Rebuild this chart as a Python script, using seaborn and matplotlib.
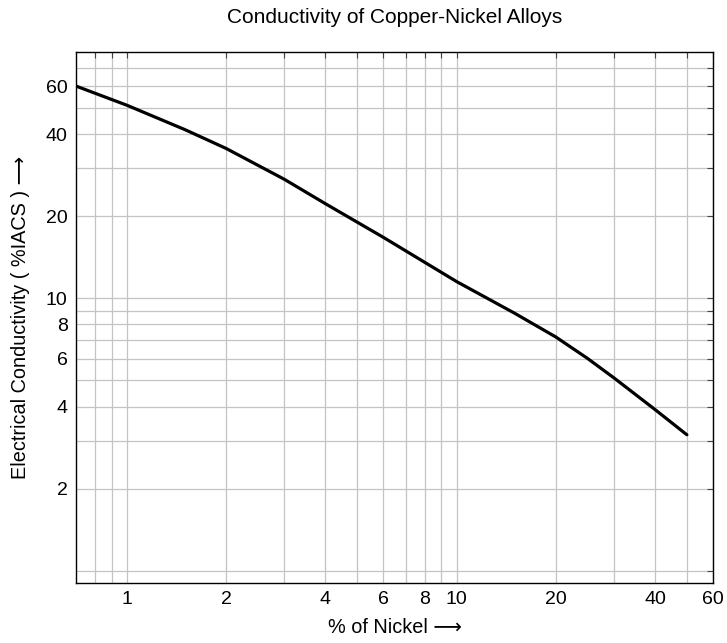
import numpy as np
import pandas as pd
import matplotlib
matplotlib.use("Agg")
import matplotlib.pyplot as plt
import matplotlib.ticker as mticker
import seaborn as sns

# Data
nickel_pct = [0.7, 1.0, 1.5, 2.0, 3.0, 4.0, 6.0, 10.0, 15.0, 20.0, 25.0, 30.0, 40.0, 50.0]
conductivity = [60.0, 51.0, 41.5, 35.4, 27.3, 22.2, 16.7, 11.5, 8.8, 7.2, 6.0, 5.1, 3.9, 3.15]

x_major = [1, 2, 4, 6, 8, 10, 20, 40, 60]
x_minor = [0.8, 0.9, 3, 5, 7, 9, 30, 50]
y_major = [2, 4, 6, 8, 10, 20, 40, 60]
y_minor = [1, 3, 5, 7, 9, 30, 50, 70]

title = "Conductivity of Copper-Nickel Alloys"
xlabel = "% of Nickel \u27f6"
ylabel = "Electrical Conductivity ( %IACS ) \u27f6"

sns.set_style("white")
plt.rcParams['font.family'] = ['Liberation Sans', 'DejaVu Sans']
plt.rcParams['text.color'] = 'black'
plt.rcParams['axes.labelcolor'] = 'black'
plt.rcParams['xtick.color'] = 'black'
plt.rcParams['ytick.color'] = 'black'

df = pd.DataFrame({"x": nickel_pct, "y": conductivity})

fig = plt.figure(figsize=(7.27, 6.43), dpi=100)
ax = fig.add_axes([0.1045, 0.0933, 0.8762, 0.8258])
ax.set_xscale("log")
ax.set_yscale("log")
sns.lineplot(data=df, x="x", y="y", ax=ax, color="black", linewidth=2.3)

ax.set_xlim(0.7, 60)
ax.set_ylim(0.9, 80)

ax.xaxis.set_major_locator(mticker.FixedLocator(x_major))
ax.xaxis.set_minor_locator(mticker.FixedLocator(x_minor))
ax.yaxis.set_major_locator(mticker.FixedLocator(y_major))
ax.yaxis.set_minor_locator(mticker.FixedLocator(y_minor))
ax.xaxis.set_major_formatter(mticker.FixedFormatter([str(v) for v in x_major]))
ax.yaxis.set_major_formatter(mticker.FixedFormatter([str(v) for v in y_major]))
ax.xaxis.set_minor_formatter(mticker.NullFormatter())
ax.yaxis.set_minor_formatter(mticker.NullFormatter())

ax.grid(True, which="both", color="#c4c4c4", linewidth=0.9)
ax.set_axisbelow(True)
ax.tick_params(which="both", direction="in", top=True, right=True, color="#444444", length=4, width=0.8)
ax.tick_params(which="major", labelsize=14, pad=6, labelcolor="black")
for s in ax.spines.values():
    s.set_color("black")
    s.set_linewidth(1.0)

ax.set_title(title, fontsize=15, pad=21, color="black")
ax.set_xlabel(xlabel, fontsize=14.3, labelpad=7)
ax.set_ylabel(ylabel, fontsize=14.3, labelpad=11)

fig.savefig("out.png", dpi=100)
